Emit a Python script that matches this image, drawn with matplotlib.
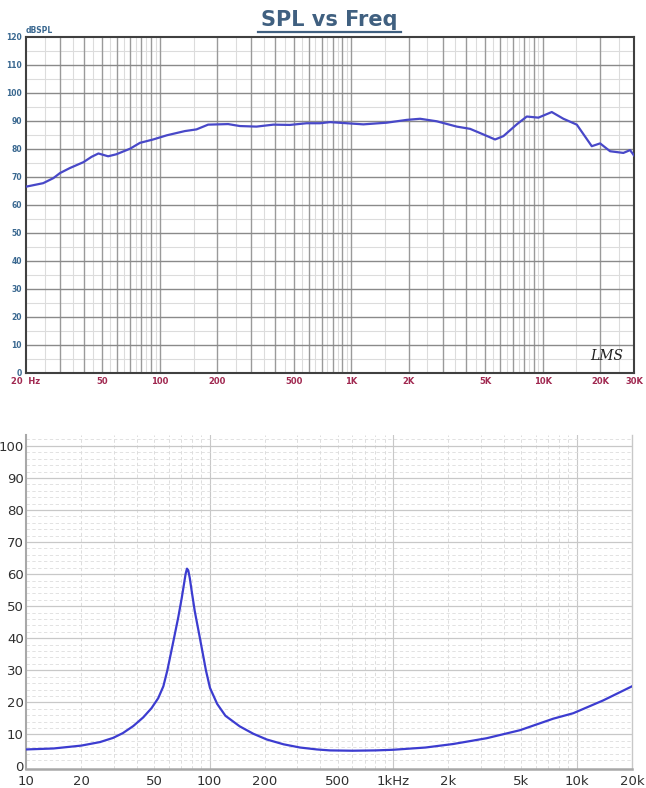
import numpy as np
import matplotlib
matplotlib.use("Agg")
import matplotlib.pyplot as plt
from matplotlib.ticker import NullFormatter

# --- top chart: SPL vs frequency ---
spl_freq = [20, 20.2, 24.6, 27.8, 30.1, 33.9, 39.9, 44, 47.8, 53.7, 59.2, 69.9,
            78.8, 92.3, 108.9, 135.2, 155.4, 178.8, 227.5, 261.9, 320, 391.9,
            478, 585, 687, 775, 948, 1157, 1533, 1950, 2289, 2797, 3560, 4176,
            4901, 5641, 6235, 7324, 8261, 9500, 11158, 12832, 15078, 18052,
            19954, 22500, 26400, 28620, 30000]
spl_db = [66.6, 66.6, 67.8, 69.6, 71.4, 73.2, 75.3, 77.2, 78.4, 77.4, 78.1, 80.1,
          82.2, 83.4, 84.9, 86.4, 87, 88.7, 88.9, 88.2, 88, 88.7,
          88.6, 89.2, 89.2, 89.6, 89.2, 88.8, 89.4, 90.4, 90.8, 89.9, 88, 87.2,
          85.2, 83.4, 84.6, 88.8, 91.6, 91.2, 93.2, 90.8, 88.7, 81,
          82, 79.2, 78.6, 79.6, 77.7]
top_ticks = [20, 50, 100, 200, 500, 1000, 2000, 5000, 10000, 20000, 30000]
top_labels = ["20  Hz", "50", "100", "200", "500", "1K", "2K", "5K", "10K", "20K", "30K"]

# --- bottom chart: impedance curve ---
imp_freq = [10, 14.1, 20, 25.3, 29.8, 33.7, 38.4, 43.5, 48.3, 52.5, 56, 58.9,
            64, 67.5, 70.5, 72.5, 74, 75.3, 76.5, 78, 80, 83, 88.6, 95.5, 100.5,
            110, 122, 146, 173, 205, 253, 311, 384, 453, 600, 800, 1000, 1500,
            2125, 3230, 4905, 7450, 9570, 13940, 20000]
imp_val = [5.3, 5.6, 6.5, 7.6, 8.9, 10.4, 12.6, 15.3, 18.2, 21.3, 25, 30,
           40, 46.5, 52.5, 56.8, 60, 61.7, 61.2, 58.8, 54.5, 48.5, 40, 30, 24.5,
           19.5, 15.8, 12.5, 10.2, 8.4, 6.9, 5.9, 5.3, 5.0, 4.9, 5.0, 5.2, 5.9,
           7.0, 8.8, 11.3, 14.9, 16.6, 20.6, 25]
bot_ticks = [10, 20, 50, 100, 200, 500, 1000, 2000, 5000, 10000, 20000]
bot_labels = ["10", "20", "50", "100", "200", "500", "1kHz", "2k", "5k", "10k", "20k"]

fig = plt.figure(figsize=(6.46, 7.88), dpi=100)

# top chart
ax1 = fig.add_axes([26/646, 1-373/788, 608/646, 336/788])
ax1.semilogx(spl_freq, spl_db, color="#4848c8", lw=1.6, zorder=3)
ax1.set_xlim(20, 30000)
ax1.set_ylim(0, 120)

for dec in [10, 100, 1000, 10000]:
    for m in range(1, 10):
        f = m * dec
        fh = (m + 0.5) * dec
        if 20 < fh < 30000:
            ax1.axvline(fh, color="#dcdcdc", lw=0.8, zorder=1)
        if 20 < f < 30000:
            ax1.axvline(f, color="#9a9a9a", lw=1.0, zorder=2)
for v in range(5, 120, 10):
    ax1.axhline(v, color="#dcdcdc", lw=0.8, zorder=1)
for v in range(10, 120, 10):
    ax1.axhline(v, color="#8a8a8a", lw=1.0, zorder=2)

ax1.set_xticks(top_ticks)
ax1.set_xticklabels(top_labels, fontsize=6, fontweight="bold", color="#a02850")
ax1.xaxis.set_minor_formatter(NullFormatter())
ax1.set_yticks(range(0, 121, 10))
ax1.set_yticklabels([str(v) for v in range(0, 121, 10)], fontsize=5.5,
                    fontweight="bold", color="#3a6890")
ax1.tick_params(axis="both", which="both", length=0, pad=3)
for s in ax1.spines.values():
    s.set_color("#404040")
    s.set_linewidth(1.5)
ax1.text(0.0, 1.005, "dBSPL", transform=ax1.transAxes, fontsize=5.5,
         fontweight="bold", color="#3a6890", ha="left", va="bottom")
ax1.text(0.955, 0.03, "LMS", transform=ax1.transAxes, fontsize=10,
         style="italic", color="#202020", ha="center", va="bottom",
         family="DejaVu Serif")
fig.text(0.51, 0.975, "SPL vs Freq", fontsize=15, fontweight="bold",
         color="#406080", ha="center", va="center")
fig.add_artist(plt.Line2D([0.4, 0.62], [0.959, 0.959], color="#406080", lw=1.6))

# bottom chart
ax2 = fig.add_axes([26/646, 1-769/788, 606/646, 334/788])
ax2.semilogx(imp_freq, imp_val, color="#3c3cd0", lw=1.6, zorder=3)
ax2.set_xlim(10, 20000)
ax2.set_ylim(-0.8, 103.4)

for dec in [10, 100, 1000, 10000]:
    for m in range(1, 10):
        f = m * dec
        if 10 < f < 20000:
            if m == 1:
                ax2.axvline(f, color="#c8c8c8", lw=0.8, zorder=1)
            else:
                ax2.axvline(f, color="#d8d8d8", lw=0.6, ls=(0, (4, 3)), zorder=1)
for v in range(2, 104, 2):
    if v % 10 == 0:
        ax2.axhline(v, color="#c8c8c8", lw=0.9, zorder=1)
    else:
        ax2.axhline(v, color="#dddddd", lw=0.6, ls=(0, (4, 3)), zorder=1)

ax2.set_xticks(bot_ticks)
ax2.set_xticklabels(bot_labels, fontsize=9.5, color="#303030")
ax2.xaxis.set_minor_formatter(NullFormatter())
ax2.set_yticks(range(0, 101, 10))
ax2.set_yticklabels([str(v) for v in range(0, 101, 10)], fontsize=9.5, color="#303030")
ax2.tick_params(axis="y", which="both", length=0, pad=1.5)
ax2.tick_params(axis="x", which="both", length=0, pad=4.5)
ax2.spines["top"].set_visible(False)
ax2.spines["left"].set_color("#a8a8a8")
ax2.spines["left"].set_linewidth(1.5)
ax2.spines["bottom"].set_color("#a8a8a8")
ax2.spines["bottom"].set_linewidth(1.8)
ax2.spines["right"].set_color("#c8c8c8")
ax2.spines["right"].set_linewidth(1.0)

fig.savefig("out.png", dpi=100)
